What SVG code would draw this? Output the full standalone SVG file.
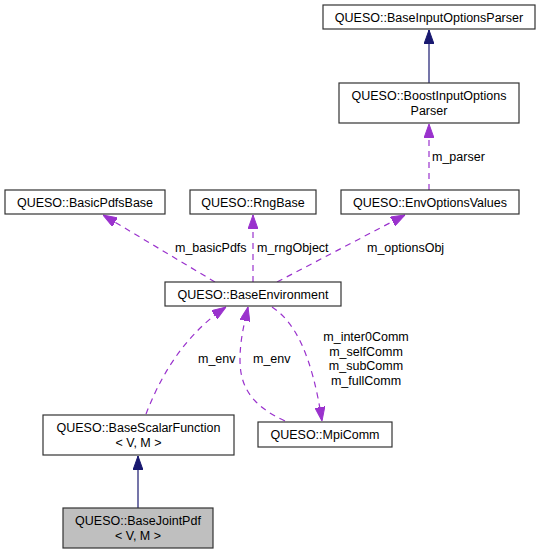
<svg xmlns="http://www.w3.org/2000/svg" width="541" height="555" viewBox="0 0 541 555">
<style>
.box{fill:#ffffff;stroke:#333333;stroke-width:1.2}
.cur{fill:#bfbfbf;stroke:#333333;stroke-width:1.2}
.t{font-family:"Liberation Sans",Arial,Helvetica,sans-serif;font-size:12.5px;fill:#000000;text-anchor:middle}
.l{font-family:"Liberation Sans",Arial,Helvetica,sans-serif;font-size:12.5px;fill:#000000}
.inh{fill:none;stroke:#191970;stroke-width:1.2;marker-end:url(#ah-inh)}
.use{fill:none;stroke:#9a32cd;stroke-width:1.2;stroke-dasharray:6,5;marker-end:url(#ah-use)}
</style>
<defs>
<marker id="ah-inh" viewBox="0 0 14 10" refX="14" refY="5" markerUnits="userSpaceOnUse" markerWidth="14" markerHeight="10" orient="auto">
<path d="M0,0 L14,5 L0,10 z" fill="#191970" stroke="#191970" stroke-width="1"/>
</marker>
<marker id="ah-use" viewBox="0 0 14 10" refX="14" refY="5" markerUnits="userSpaceOnUse" markerWidth="14" markerHeight="10" orient="auto">
<path d="M0,0 L14,5 L0,10 z" fill="#9a32cd" stroke="#9a32cd" stroke-width="1"/>
</marker>
</defs>
<rect width="541" height="555" fill="#ffffff"/>
<g id="connectors">
<path class="inh" d="M429,83 L429,30"/>
<path class="use" d="M429,190 L429,124"/>
<path class="use" d="M215,282 L103,215"/>
<path class="use" d="M253,282 L253,215"/>
<path class="use" d="M277,282 L405,215"/>
<path class="use" d="M146,414 C158,383 180,338 226,307"/>
<path class="use" d="M285,421 C250,405 240,385 240,360 C240,340 244,325 248,307"/>
<path class="use" d="M272,307 C295,322 312,355 322,421"/>
<path class="inh" d="M138,508 L138,456"/>
<text class="l" x="432" y="161">m_parser</text>
<text class="l" x="175" y="251.5">m_basicPdfs</text>
<text class="l" x="257" y="251.5">m_rngObject</text>
<text class="l" x="367" y="251.5">m_optionsObj</text>
<text class="l" x="198" y="362.5">m_env</text>
<text class="l" x="253" y="362.5">m_env</text>
<text class="t" x="366" y="341">m_inter0Comm</text>
<text class="t" x="366" y="355.7">m_selfComm</text>
<text class="t" x="366" y="370.4">m_subComm</text>
<text class="t" x="366" y="385">m_fullComm</text>
</g>
<g id="node-BaseInputOptionsParser">
<rect class="box" x="323" y="5" width="212" height="24"/>
<text class="t" x="429" y="21.5">QUESO::BaseInputOptionsParser</text>
</g>
<g id="node-BoostInputOptionsParser">
<rect class="box" x="339" y="83" width="180" height="40"/>
<text class="t" x="429" y="99.5">QUESO::BoostInputOptions</text>
<text class="t" x="429" y="114.5">Parser</text>
</g>
<g id="node-BasicPdfsBase">
<rect class="box" x="5" y="190" width="160" height="24"/>
<text class="t" x="85" y="206.5">QUESO::BasicPdfsBase</text>
</g>
<g id="node-RngBase">
<rect class="box" x="190" y="190" width="126" height="24"/>
<text class="t" x="253" y="206.5">QUESO::RngBase</text>
</g>
<g id="node-EnvOptionsValues">
<rect class="box" x="341" y="190" width="178" height="24"/>
<text class="t" x="430" y="206.5">QUESO::EnvOptionsValues</text>
</g>
<g id="node-BaseEnvironment">
<rect class="box" x="165" y="282" width="176" height="24"/>
<text class="t" x="253" y="298.5">QUESO::BaseEnvironment</text>
</g>
<g id="node-BaseScalarFunction">
<rect class="box" x="43" y="415" width="191" height="40"/>
<text class="t" x="138.5" y="432">QUESO::BaseScalarFunction</text>
<text class="t" x="138.5" y="447">&lt; V, M &gt;</text>
</g>
<g id="node-MpiComm">
<rect class="box" x="258" y="422" width="134" height="25"/>
<text class="t" x="325" y="439">QUESO::MpiComm</text>
</g>
<g id="node-BaseJointPdf">
<rect class="cur" x="63" y="508" width="150" height="40"/>
<text class="t" x="138" y="524.5">QUESO::BaseJointPdf</text>
<text class="t" x="138" y="539.5">&lt; V, M &gt;</text>
</g>
</svg>
